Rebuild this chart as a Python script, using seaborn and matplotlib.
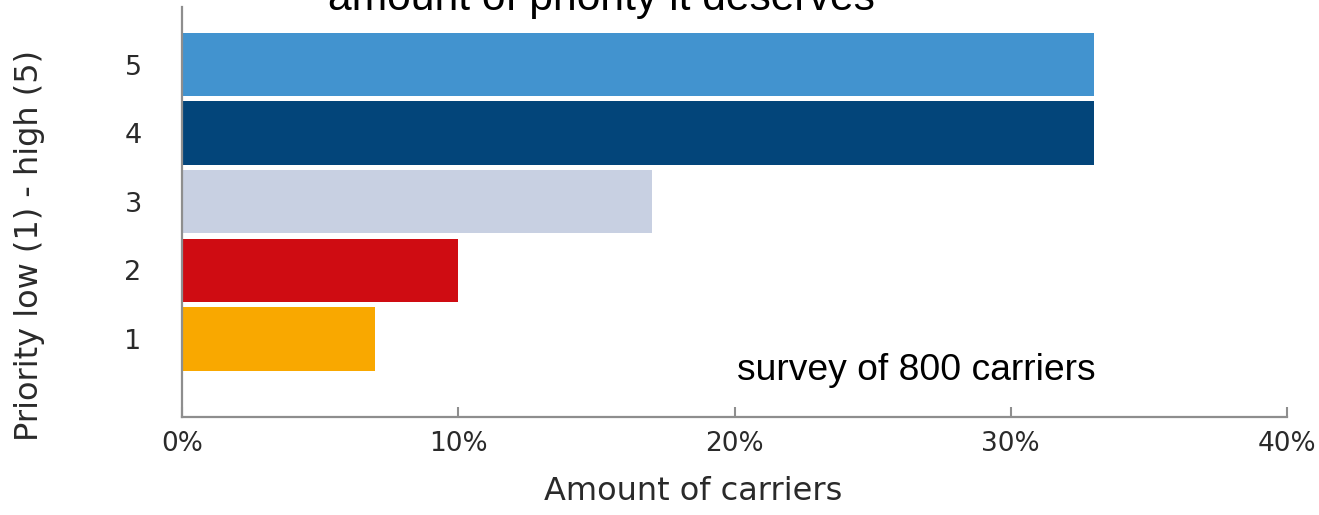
import matplotlib
matplotlib.use("Agg")
import matplotlib.pyplot as plt
from matplotlib.ticker import FuncFormatter
import pandas as pd
import seaborn as sns

# Survey answers: share of carriers per priority level
priorities = ["5", "4", "3", "2", "1"]
shares = [33, 33, 17, 10, 7]
bar_colors = ["#4293CF", "#03457A", "#C8D0E2", "#CF0C12", "#F9A800"]
x_ticks = [0, 10, 20, 30, 40]

title_text = "amount of priority it deserves"
note_text = "survey of 800 carriers"
x_label = "Amount of carriers"
y_label = "Priority low (1) - high (5)"

df = pd.DataFrame({"priority": priorities, "share": shares})

sns.set_style("white")
plt.rcParams["font.family"] = ["DejaVu Sans"]

W, H = 1319, 515
fig = plt.figure(figsize=(W / 100, H / 100), dpi=100)

# axes placed in pixel terms: left 182, right 1287, top 7, bottom 417
left, right, top, bottom = 182, 1287, 7, 417
ax = fig.add_axes([left / W, (H - bottom) / H, (right - left) / W, (bottom - top) / H])

sns.barplot(
    data=df, x="share", y="priority", hue="priority", order=priorities,
    hue_order=priorities, palette=bar_colors, saturation=1, width=0.923,
    orient="h", legend=False, linewidth=0, ax=ax,
)

ax.set_xlim(0, 40)
ax.set_ylim(5.137, -0.838)
ax.set_xticks(x_ticks)
ax.xaxis.set_major_formatter(FuncFormatter(lambda v, _: f"{v:.0f}%"))

spine_color = "#8E8E8E"
for side in ["top", "right"]:
    ax.spines[side].set_visible(False)
for side in ["left", "bottom"]:
    ax.spines[side].set_color(spine_color)
    ax.spines[side].set_linewidth(1.6)

ax.tick_params(axis="x", direction="in", length=7, width=1.5, color=spine_color,
               pad=10, labelsize=19, labelcolor="#2A2A2A", bottom=True)
ax.tick_params(axis="y", length=0, pad=29, labelsize=19.5, labelcolor="#2A2A2A")

ax.set_xlabel(x_label, fontsize=23, color="#2A2A2A")
ax.set_ylabel(y_label, fontsize=23, color="#2A2A2A")
ax.xaxis.set_label_coords(511 / (right - left), -0.144)
ax.yaxis.set_label_coords(-137 / (right - left), 0.4195)

fig.text(601 / W, (H - 10) / H, title_text, ha="center", va="baseline",
         fontsize=30.7, family=["Liberation Sans"], color="black")
fig.text(737 / W, (H - 380) / H, note_text, ha="left", va="baseline",
         fontsize=26.8, family=["Liberation Sans"], color="black")

fig.savefig("out.png", dpi=100, facecolor="white")
